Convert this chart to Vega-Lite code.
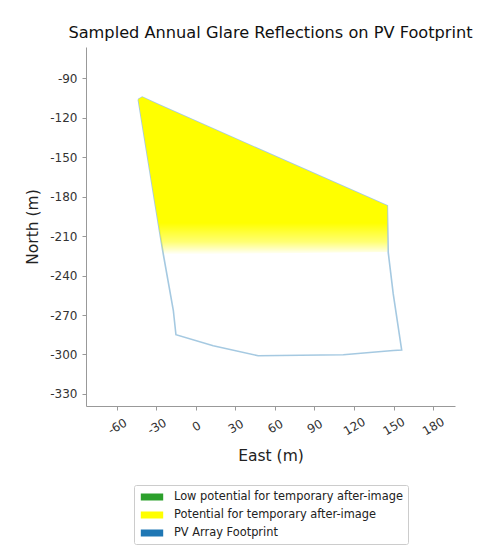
{
  "$schema": "https://vega.github.io/schema/vega-lite/v6.json",
  "autosize": {"type": "none"},
  "padding": {"left": 86, "top": 47, "right": 30, "bottom": 147},
  "width": 369,
  "height": 359,
  "background": "white",
  "config": {
    "font": "DejaVu Sans",
    "view": {"stroke": null},
    "axis": {
      "grid": false,
      "domainColor": "#999999",
      "tickColor": "#999999",
      "tickSize": 4,
      "labelColor": "#333333",
      "labelFontSize": 12,
      "labelFont": "DejaVu Sans",
      "titleFont": "DejaVu Sans",
      "titleFontSize": 15.5,
      "titleFontWeight": "normal",
      "titleColor": "#222222",
      "labelExpr": "toString(datum.value)"
    }
  },
  "title": {
    "text": "Sampled Annual Glare Reflections on PV Footprint",
    "font": "DejaVu Sans",
    "fontSize": 16.2,
    "fontWeight": "normal",
    "color": "#111111",
    "anchor": "middle",
    "offset": 6
  },
  "layer": [
    {
      "data": {
        "values": [
          {"i": 0, "east": -43.8, "north": -106.0},
          {"i": 1, "east": -40.8, "north": -104.3},
          {"i": 2, "east": -28.6, "north": -110.0},
          {"i": 3, "east": 145.3, "north": -187.0},
          {"i": 4, "east": 146.0, "north": -222.4},
          {"i": 5, "east": 149.8, "north": -254.0},
          {"i": 6, "east": 156.2, "north": -296.6},
          {"i": 7, "east": 149.8, "north": -297.0},
          {"i": 8, "east": 111.9, "north": -300.2},
          {"i": 9, "east": 47.3, "north": -301.0},
          {"i": 10, "east": 13.1, "north": -293.4},
          {"i": 11, "east": -15.2, "north": -285.0},
          {"i": 12, "east": -17.2, "north": -266.4},
          {"i": 13, "east": -24.8, "north": -223.8},
          {"i": 14, "east": -43.8, "north": -106.0}
        ]
      },
      "mark": {"type": "line", "stroke": "#1f77b4", "opacity": 0.4, "strokeWidth": 1.6},
      "encoding": {
        "x": {
          "field": "east", "type": "quantitative",
          "scale": {"domain": [-83.5, 196.7], "nice": false, "zero": false},
          "axis": {
            "title": "East (m)",
            "values": [-60, -30, 0, 30, 60, 90, 120, 150, 180],
            "labelAngle": -30,
            "labelAlign": "center",
            "labelBaseline": "middle",
            "labelPadding": 16,
            "titlePadding": 12
          }
        },
        "y": {
          "field": "north", "type": "quantitative",
          "scale": {"domain": [-339.2, -66.2], "nice": false, "zero": false},
          "axis": {
            "title": "North (m)",
            "values": [-330, -300, -270, -240, -210, -180, -150, -120, -90],
            "labelPadding": 5,
            "titlePadding": 9
          }
        },
        "order": {"field": "i", "type": "quantitative"}
      }
    },
    {
      "data": {
        "values": [
          {"east": -43.8, "top": -106.0, "bottom": -106.0},
          {"east": -40.8, "top": -104.3, "bottom": -124.6},
          {"east": -28.6, "top": -110.0, "bottom": -200.0},
          {"east": -24.8, "top": -111.7, "bottom": -224.0},
          {"east": 145.3, "top": -187.0, "bottom": -222.0}
        ]
      },
      "mark": {
        "type": "area",
        "orient": "vertical",
        "fill": {
          "gradient": "linear",
          "x1": 0, "y1": 0, "x2": 0, "y2": 1,
          "stops": [
            {"offset": 0, "color": "#ffff00"},
            {"offset": 0.8, "color": "#ffff00"},
            {"offset": 0.92, "color": "rgba(255,255,0,0.55)"},
            {"offset": 1, "color": "rgba(255,255,0,0)"}
          ]
        }
      },
      "encoding": {
        "x": {"field": "east", "type": "quantitative"},
        "y": {"field": "top", "type": "quantitative"},
        "y2": {"field": "bottom"}
      }
    },
    {
      "data": {
        "values": [
          {"category": "Low potential for temporary after-image", "east": 50, "north": -200},
          {"category": "Potential for temporary after-image", "east": 50, "north": -200},
          {"category": "PV Array Footprint", "east": 50, "north": -200}
        ]
      },
      "mark": {"type": "point", "filled": true, "opacity": 0},
      "encoding": {
        "x": {"field": "east", "type": "quantitative"},
        "y": {"field": "north", "type": "quantitative"},
        "fill": {
          "field": "category", "type": "nominal",
          "scale": {
            "domain": ["Low potential for temporary after-image", "Potential for temporary after-image", "PV Array Footprint"],
            "range": ["#2ca02c", "#ffff00", "#1f77b4"]
          },
          "legend": {
            "title": null,
            "orient": "none",
            "legendX": 48,
            "legendY": 438,
            "direction": "vertical",
            "symbolType": "M-1.6,-0.5L1.6,-0.5L1.6,0.5L-1.6,0.5Z",
            "symbolSize": 196,
            "symbolOpacity": 1,
            "symbolStrokeWidth": 0,
            "symbolOffset": 6,
            "labelFont": "DejaVu Sans",
            "labelFontSize": 11.4,
            "labelColor": "#222222",
            "labelOffset": 15,
            "labelLimit": 400,
            "rowPadding": 5,
            "padding": 5,
            "strokeColor": "#cccccc",
            "cornerRadius": 2,
            "fillColor": "white"
          }
        }
      }
    }
  ]
}
